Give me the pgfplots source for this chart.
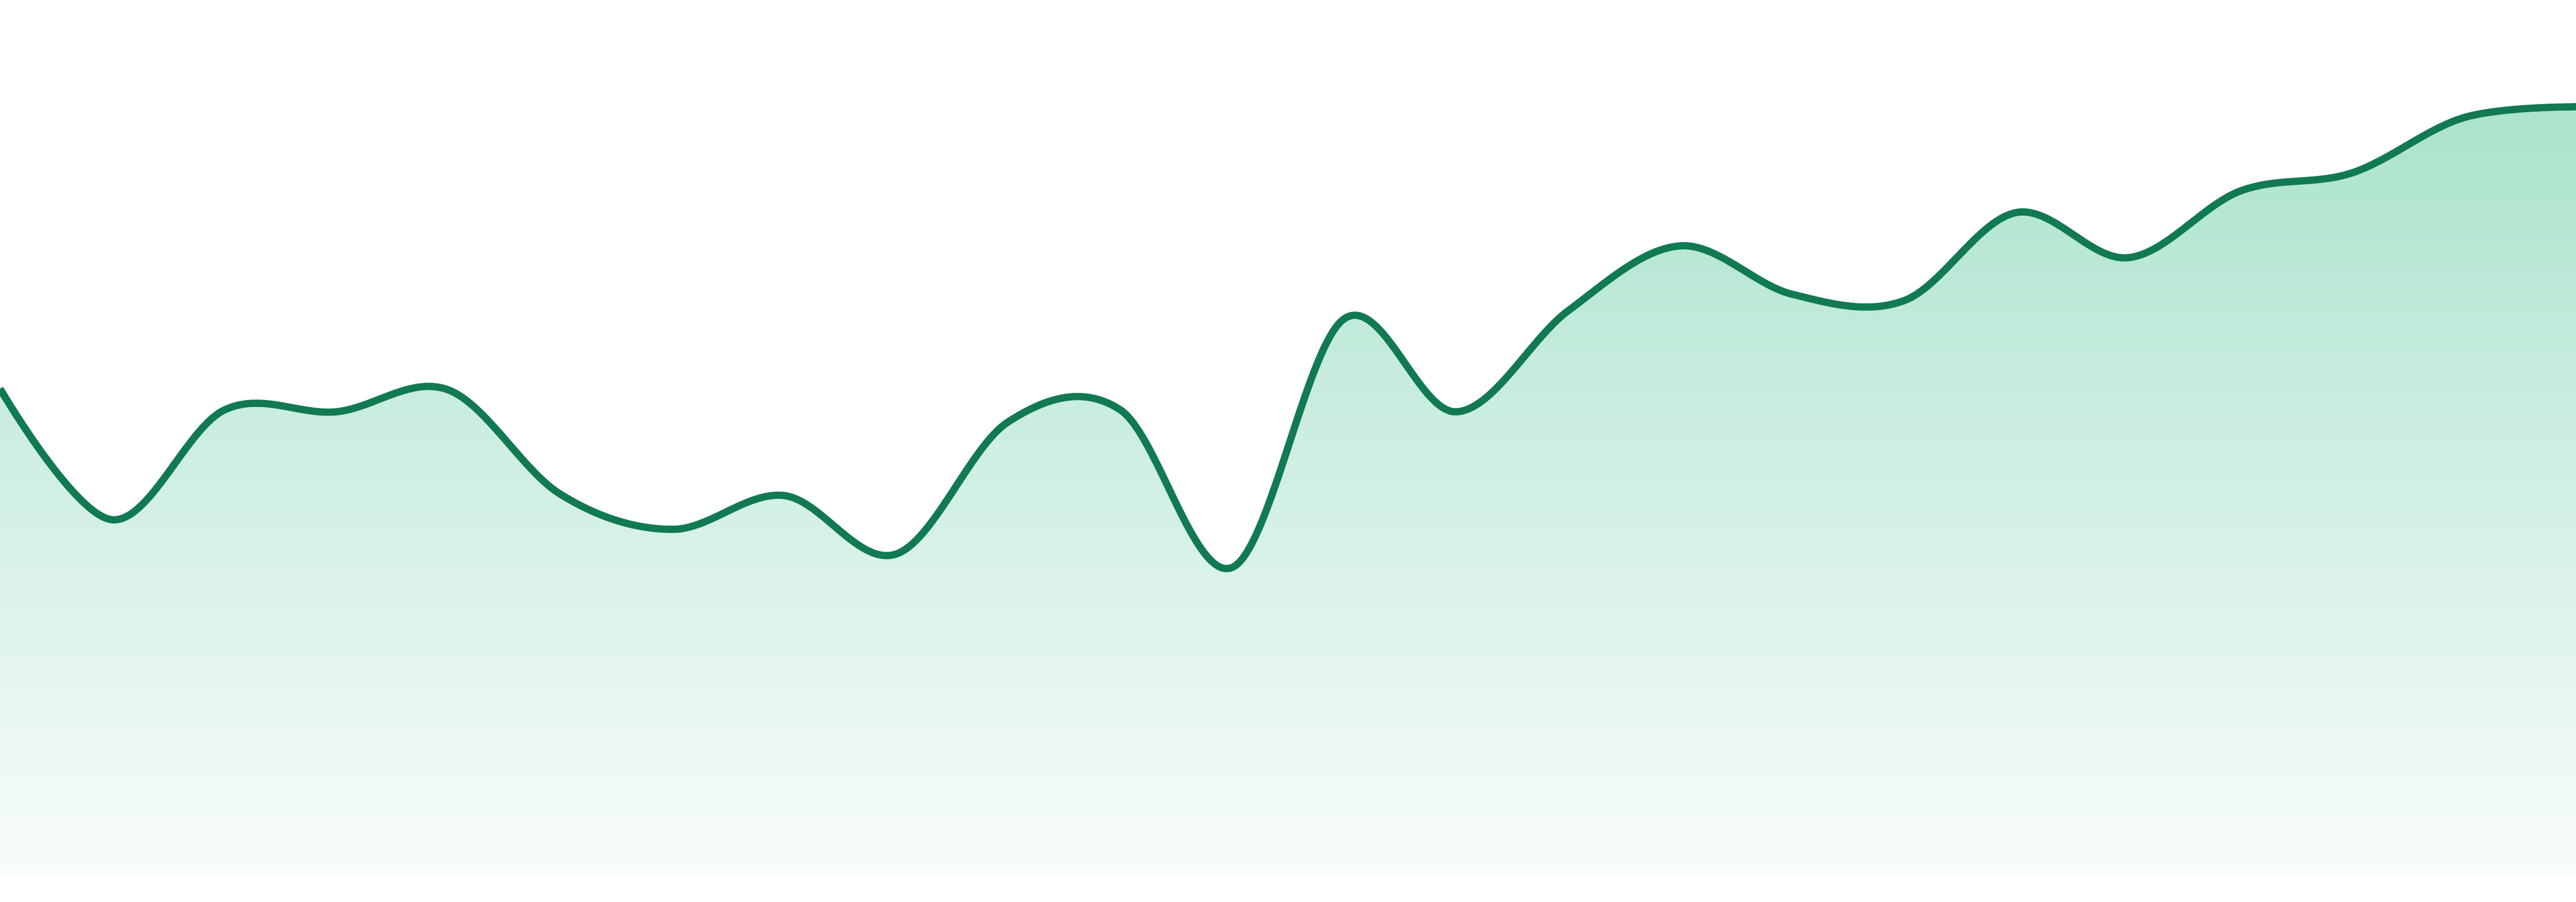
\documentclass[border=0pt]{standalone}
\usepackage{pgfplots}
\usepackage{pgfplotstable}
\pgfplotsset{compat=1.18}
\definecolor{lineGreen}{HTML}{117A52}
\definecolor{fillTop}{HTML}{AAE3CC}
\definecolor{fillBottom}{HTML}{F9FCFB}

\pgfplotstableread{
x y
0 908
1 664
2 868
3 865
4 906
5 712
6 646
7 709
8 600
9 846
10 869
11 575
12 1038
13 865
14 1053
15 1174
16 1084
17 1072
18 1236
19 1152
20 1276
21 1310
22 1413
23 1433
}\series

\begin{document}
\begin{tikzpicture}
\begin{axis}[
    width=480pt, height=168pt, scale only axis,
    xmin=0, xmax=23, ymin=-48, ymax=1632,
    axis lines=none, ticks=none,
]
  % gradient area under the curve
  \addplot[draw=none, smooth, tension=0.6, top color=fillTop, bottom color=fillBottom]
      table[x=x, y=y] {\series} \closedcycle;
  % the line itself
  \addplot[lineGreen, line width=1.35pt, smooth, tension=0.6]
      table[x=x, y=y] {\series};
  \path (rel axis cs:0,0) rectangle (rel axis cs:1,1);
\end{axis}
\end{tikzpicture}
\end{document}
